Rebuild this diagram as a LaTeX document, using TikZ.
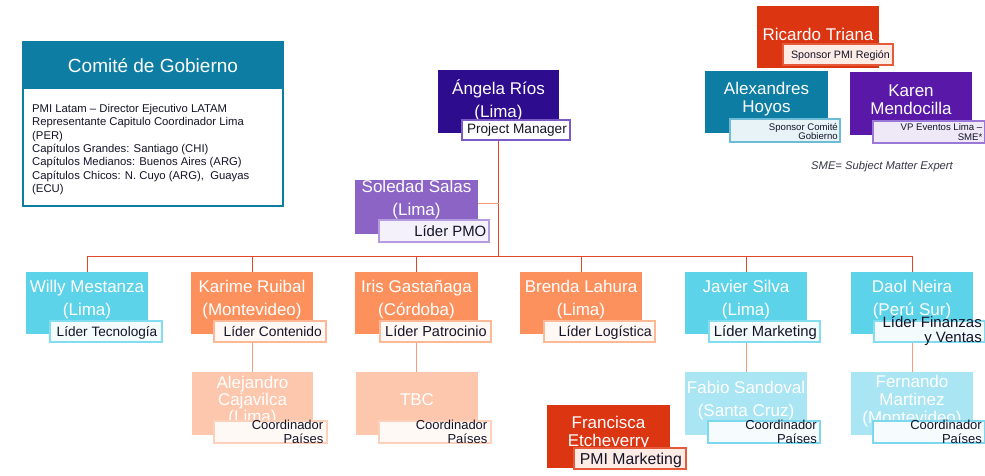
\documentclass[tikz,border=0pt]{standalone}
\usepackage{fontspec}
\setmainfont{Liberation Sans}
\usetikzlibrary{fit,calc}
\pgfdeclarelayer{bg}
\pgfsetlayers{bg,main}
\definecolor{cTeal}{HTML}{0E7DA4}
\definecolor{cIndigo}{HTML}{2E0C8E}
\definecolor{cRedBox}{HTML}{DC3512}
\definecolor{cPurple}{HTML}{5A18A8}
\definecolor{cLav}{HTML}{8B64C5}
\definecolor{cCyan}{HTML}{5DD3EA}
\definecolor{cOrange}{HTML}{FD915E}
\definecolor{cPeach}{HTML}{FDC7AD}
\definecolor{cIce}{HTML}{AAE5F3}
\definecolor{cInk}{HTML}{141428}
\definecolor{cLine}{HTML}{E0462A}
\definecolor{cLineB}{HTML}{F49B78}
\definecolor{bIndigo}{HTML}{7D5BC6}
\definecolor{fIndigo}{HTML}{FFFFFF}
\definecolor{bRed}{HTML}{E55A38}
\definecolor{fRed}{HTML}{FDEBE5}
\definecolor{bTeal}{HTML}{6DBBD4}
\definecolor{fTeal}{HTML}{E8F3F7}
\definecolor{bPurple}{HTML}{9A78D8}
\definecolor{fPurple}{HTML}{EEE8F7}
\definecolor{bLav}{HTML}{B59BE0}
\definecolor{fLav}{HTML}{F5F1FB}
\definecolor{bCyan}{HTML}{83DDF0}
\definecolor{fCyan}{HTML}{F3FBFD}
\definecolor{bOrange}{HTML}{FDB896}
\definecolor{fOrange}{HTML}{FFF8F4}
\definecolor{bPeach}{HTML}{FDD0BC}
\definecolor{fPeach}{HTML}{FFF9F6}
\definecolor{bIce}{HTML}{7CD8EE}
\definecolor{fIce}{HTML}{F6FCFE}
\tikzset{
  pb/.style={rectangle, inner sep=0pt, outer sep=0pt, draw=none},
  lb/.style={rectangle, inner sep=0pt, outer sep=0pt, line width=1.2pt},
  nm/.style={text=white, align=center, inner sep=0pt, font=\fontsize{17}{23}\selectfont},
  nmt/.style={text=white, align=center, inner sep=0pt, font=\fontsize{17}{18}\selectfont},
  lt/.style={text=cInk, align=right, inner sep=0pt},
  linkA/.style={draw=cLine, line width=1pt},
  linkB/.style={draw=cLineB, line width=1pt},
}
\newcommand\pbox[4]{\node[pb, fill=#4, fit={(#2) (#3)}] (#1) {};}
\newcommand\lbox[5]{\node[lb, draw=#4, fill=#5, fit={(#2) (#3)}] (#1) {};}
\begin{document}
\begin{tikzpicture}[x=1pt,y=-1pt]
\useasboundingbox (0,0) rectangle (985,476);

% Comite de Gobierno
\node[rectangle, draw=cTeal, line width=1.5pt, fill=white, inner sep=0pt, fit={(23,42) (283,206)}] (comite) {};
\node[pb, fill=cTeal, fit={(23,42) (283,89)}] (comiteH) {};
\node[text=white, inner sep=0pt, font=\fontsize{19}{22}\selectfont] (comiteT) at (153,65.5) {Comité de Gobierno};
\node[text=cInk, align=left, anchor=north west, inner sep=0pt, font=\fontsize{11.3}{13.4}\selectfont] (comiteB) at (32,104)
 {PMI Latam -- Director Ejecutivo LATAM\\Representante Capitulo Coordinador Lima\\(PER)\\Capítulos Grandes: Santiago (CHI)\\Capítulos Medianos: Buenos Aires (ARG)\\Capítulos Chicos: N. Cuyo (ARG),\ \ Guayas\\(ECU)};

% Sponsors
\pbox{ricardo}{757,6}{879,68}{cRedBox}
\node[nm] (ricardoT) at (818,34.5) {Ricardo Triana};
\lbox{ricardoL}{783,44}{893,65}{bRed}{fRed}
\node[lt, anchor=base east, font=\fontsize{10.7}{12}\selectfont] (ricardoLT) at (890,58.5) {Sponsor PMI Región};

\pbox{alex}{705,71}{828,133}{cTeal}
\node[nmt] (alexT) at (766.5,99.5) {Alexandres\\Hoyos};
\lbox{alexL}{730,119}{840,142}{bTeal}{fTeal}
\node[lt, anchor=east, font=\fontsize{9.6}{9.4}\selectfont] (alexLT) at (838,131.5) {Sponsor Comité\\Gobierno};

\pbox{karen}{850,72}{972,135}{cPurple}
\node[nmt] (karenT) at (911,99.5) {Karen\\Mendocilla};
\lbox{karenL}{873,121}{984.3,143}{bPurple}{fPurple}
\node[lt, anchor=east, font=\fontsize{9.6}{9.4}\selectfont] (karenLT) at (982.5,132) {VP Eventos Lima --\\SME*};

\node[text=cInk!85, inner sep=0pt, font=\fontsize{11.2}{12}\selectfont\itshape] (sme) at (882,167) {SME= Subject Matter Expert};

% Project manager
\pbox{angela}{438,70}{559,133}{cIndigo}
\node[nm] (angelaT) at (498.5,100) {Ángela Ríos\\(Lima)};
\lbox{angelaL}{462,120}{570,140}{bIndigo}{fIndigo}
\node[lt, anchor=base east, font=\fontsize{13.6}{15}\selectfont] (angelaLT) at (567,134) {Project Manager};

% PMO
\pbox{soledad}{355,180}{478,234}{cLav}
\node[nm] (soledadT) at (416.5,199.5) {Soledad Salas\\(Lima)};
\lbox{soledadL}{379,220}{489,242}{bLav}{fLav}
\node[lt, anchor=base east, font=\fontsize{14.9}{16}\selectfont] (soledadLT) at (486.5,236) {Líder PMO};

% Level 2
\pbox{willy}{26,272}{148,334}{cCyan}
\node[nm] (willyT) at (87,300) {Willy Mestanza\\(Lima)};
\lbox{willyL}{50,321}{162,342}{bCyan}{fCyan}
\node[lt, anchor=base east, font=\fontsize{13.6}{15}\selectfont] (willyLT) at (157.5,336) {Líder Tecnología};

\pbox{karime}{191,272}{313,334}{cOrange}
\node[nm] (karimeT) at (252,300) {Karime Ruibal\\(Montevideo)};
\lbox{karimeL}{214,321}{326,342}{bOrange}{fOrange}
\node[lt, anchor=base east, font=\fontsize{13.8}{15}\selectfont] (karimeLT) at (322,336) {Líder Contenido};

\pbox{iris}{355,272}{478,334}{cOrange}
\node[nm] (irisT) at (416.5,300) {Iris Gastañaga\\(Córdoba)};
\lbox{irisL}{380,321}{491,342}{bOrange}{fOrange}
\node[lt, anchor=base east, font=\fontsize{14.5}{16}\selectfont] (irisLT) at (487,336) {Líder Patrocinio};

\pbox{brenda}{520,272}{642,334}{cOrange}
\node[nm] (brendaT) at (581,300) {Brenda Lahura\\(Lima)};
\lbox{brendaL}{544,321}{655,342}{bOrange}{fOrange}
\node[lt, anchor=base east, font=\fontsize{14.2}{16}\selectfont] (brendaLT) at (652,336) {Líder Logística};

\pbox{javier}{685,272}{807,334}{cCyan}
\node[nm] (javierT) at (746,300) {Javier Silva\\(Lima)};
\lbox{javierL}{709,321}{820,342}{bCyan}{fCyan}
\node[lt, anchor=base east, font=\fontsize{14.8}{16}\selectfont] (javierLT) at (817,336) {Líder Marketing};

\pbox{daol}{851,272}{973,334}{cCyan}
\node[nm] (daolT) at (912,300) {Daol Neira\\(Perú Sur)};
\lbox{daolL}{874,321}{984.3,342}{bCyan}{fCyan}
\node[lt, anchor=east, font=\fontsize{15}{15.5}\selectfont] (daolLT) at (982,331) {Líder Finanzas\\y Ventas};

% Level 3
\pbox{alejandro}{192,372}{313,435}{cPeach}
\node[nmt, font=\fontsize{17}{17}\selectfont] (alejandroT) at (252.5,401) {Alejandro\\Cajavilca\\(Lima)};
\lbox{alejandroL}{214,421}{327,443}{bPeach}{fPeach}
\node[lt, anchor=east, font=\fontsize{13}{13.6}\selectfont] (alejandroLT) at (323.5,432) {Coordinador\\Países};

\pbox{tbc}{356,372}{478,435}{cPeach}
\node[nm] (tbcT) at (417,400) {TBC};
\lbox{tbcL}{379,421}{491,443}{bPeach}{fPeach}
\node[lt, anchor=east, font=\fontsize{13}{13.6}\selectfont] (tbcLT) at (487.5,432) {Coordinador\\Países};

\pbox{fabio}{685,372}{807,435}{cIce}
\node[nm] (fabioT) at (746,400.5) {Fabio Sandoval\\(Santa Cruz)};
\lbox{fabioL}{708,421}{820,443}{bIce}{fIce}
\node[lt, anchor=east, font=\fontsize{13}{13.6}\selectfont] (fabioLT) at (817,432) {Coordinador\\Países};

\pbox{fernando}{851,372}{973,435}{cIce}
\node[nmt] (fernandoT) at (912,401) {Fernando\\Martinez\\(Montevideo)};
\lbox{fernandoL}{873,421}{984.3,443}{bIce}{fIce}
\node[lt, anchor=east, font=\fontsize{13}{13.6}\selectfont] (fernandoLT) at (982,432) {Coordinador\\Países};

% PMI Marketing
\pbox{francisca}{547,405}{670,468}{cRedBox}
\node[nmt] (franciscaT) at (608.5,433.5) {Francisca\\Etcheverry};
\lbox{franciscaL}{574,448}{686,469}{bRed}{fRed}
\node[lt, anchor=base east, font=\fontsize{15.8}{17}\selectfont] (franciscaLT) at (682,464) {PMI Marketing};

% Background and connectors
\begin{pgfonlayer}{bg}
\fill[white] (0,0) rectangle (985,476);
\path (angela.south) ++(0,123) coordinate (bar);
\draw[linkA] (angela.south) -- (bar);
\foreach \c in {willy,karime,iris,brenda,javier,daol}{
  \draw[linkA] (bar) -| (\c.north);
}
\coordinate (solR) at ($(soledad.east)+(0,-4)$);
\draw[linkB] (solR) -- (solR -| bar);
\draw[linkB] (karime.south) -- (karime.south |- alejandro.north);
\draw[linkB] (iris.south) -- (iris.south |- tbc.north);
\draw[linkB] (javier.south) -- (javier.south |- fabio.north);
\draw[linkB] (daol.south) -- (daol.south |- fernando.north);
\end{pgfonlayer}
\end{tikzpicture}
\end{document}
